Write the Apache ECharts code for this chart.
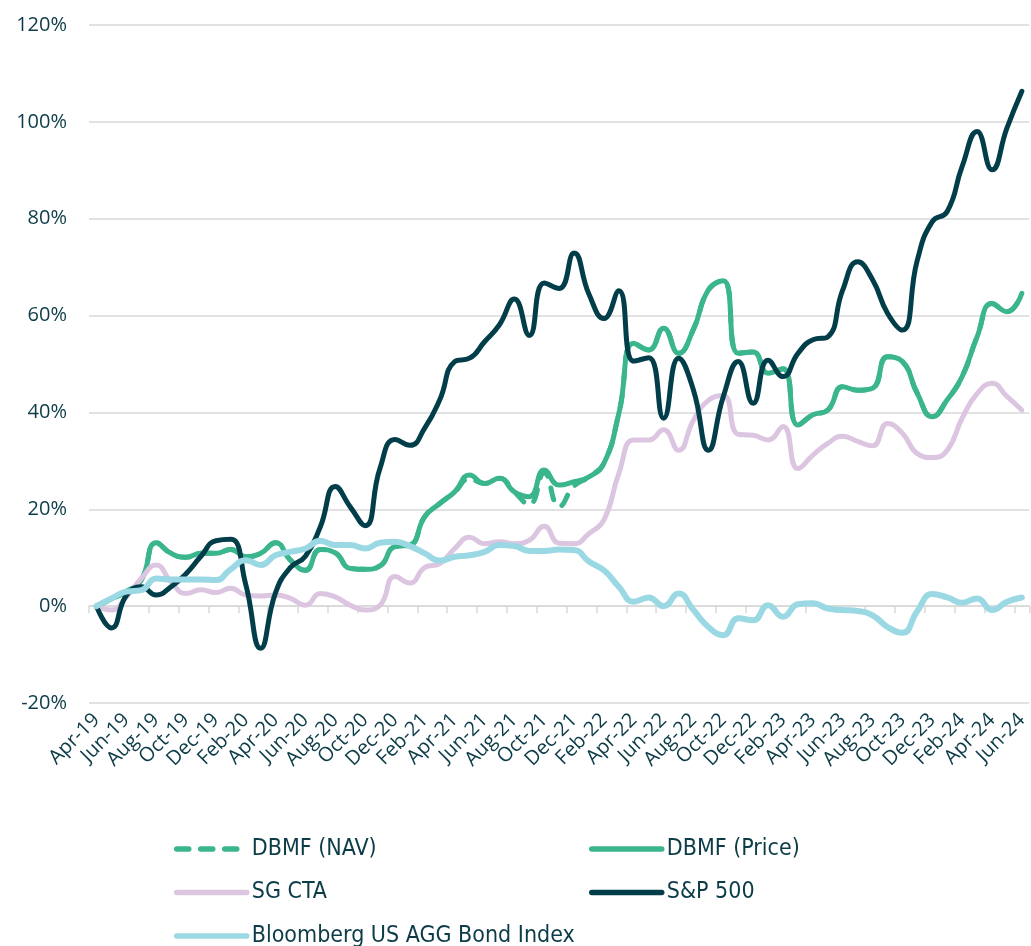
<!DOCTYPE html>
<html><head><meta charset="utf-8">
<script src="https://cdn.jsdelivr.net/npm/echarts@6/dist/echarts.min.js"></script>
<style>html,body{margin:0;padding:0;background:#fff}#c{width:1031px;height:946px}</style>
</head><body><div id="c"></div>
<script>
const months = ['Apr-19','May-19','Jun-19','Jul-19','Aug-19','Sep-19','Oct-19','Nov-19','Dec-19',
'Jan-20','Feb-20','Mar-20','Apr-20','May-20','Jun-20','Jul-20','Aug-20','Sep-20','Oct-20','Nov-20','Dec-20',
'Jan-21','Feb-21','Mar-21','Apr-21','May-21','Jun-21','Jul-21','Aug-21','Sep-21','Oct-21','Nov-21','Dec-21',
'Jan-22','Feb-22','Mar-22','Apr-22','May-22','Jun-22','Jul-22','Aug-22','Sep-22','Oct-22','Nov-22','Dec-22',
'Jan-23','Feb-23','Mar-23','Apr-23','May-23','Jun-23','Jul-23','Aug-23','Sep-23','Oct-23','Nov-23','Dec-23',
'Jan-24','Feb-24','Mar-24','Apr-24','May-24','Jun-24'];

const dbmfNav = [0,1.5,3.0,5.4,13.1,10.9,10.1,10.9,10.9,11.7,10.2,10.9,13.1,9.5,7.4,11.7,11.0,7.8,7.6,8.3,12.3,12.6,18.5,21.2,23.6,26.3,25.3,26.4,23.6,21.0,27.5,20.6,24.8,26.7,29.5,39.8,54.3,52.9,57.4,52.2,57.2,65.3,67.2,52.2,52.5,48.1,49.0,37.4,39.5,40.5,45.3,44.6,45.0,51.5,50.5,43.9,39.1,42.6,47.4,55.6,62.5,60.8,64.6];
const dbmfPrice = [0,1.5,3.0,5.4,13.1,10.9,10.1,10.9,10.9,11.7,10.2,10.9,13.1,9.5,7.4,11.7,11.0,7.8,7.6,8.3,12.3,12.6,18.5,21.2,23.6,27.1,25.3,26.4,23.6,22.6,28.1,25.0,25.7,26.7,29.5,39.8,54.3,52.9,57.4,52.2,57.2,65.3,67.2,52.2,52.5,48.1,49.0,37.4,39.5,40.5,45.3,44.6,45.0,51.5,50.5,43.9,39.1,42.6,47.4,55.6,62.5,60.8,64.6];
const sgCta = [0,-0.8,1.9,5.7,8.5,5.0,2.6,3.4,2.8,3.7,2.3,2.1,2.3,1.6,0.2,2.6,1.9,0.2,-0.8,0.2,6.1,4.8,8.0,8.8,11.9,14.2,12.9,13.3,12.9,13.6,16.5,13.0,12.9,15.0,17.8,27.4,34.3,34.3,36.4,32.2,38.4,42.5,43.5,35.5,35.3,34.3,37.1,28.4,31.2,33.6,35.1,34.0,33.1,37.7,35.7,31.5,30.7,32.2,38.8,43.9,46.0,43.3,40.5];
const sp500 = [0,-4.5,2.2,4.0,2.3,4.0,6.7,10.3,13.5,13.8,4.5,-8.7,2.8,8.0,10.3,16.4,24.7,20.5,16.6,28.5,34.4,33.2,36.8,42.6,50.5,51.2,54.6,58.1,63.4,55.9,66.7,65.6,72.9,64.4,59.4,65.1,50.6,51.3,38.8,51.2,44.6,32.2,43.3,50.5,41.9,50.8,47.4,52.2,55.0,55.6,65.3,71.1,67.4,60.5,57.0,71.5,79.4,81.5,90.8,98.0,90.1,98.7,106.3];
const bondAgg = [0,1.6,3.0,3.3,5.7,5.5,5.5,5.5,5.4,7.6,9.5,8.5,10.5,11.2,11.9,13.5,12.6,12.6,11.9,13.1,13.3,12.4,10.9,9.4,10.2,10.5,11.2,12.6,12.4,11.4,11.4,11.7,11.6,9.2,7.4,4.0,0.9,1.8,0,2.6,-0.8,-4.3,-6.0,-2.5,-2.9,0.2,-2.2,0.4,0.6,-0.5,-0.8,-1.0,-1.9,-4.3,-5.5,-1.0,2.5,1.8,0.7,1.6,-0.8,0.9,1.8];

const TEXT = '#0c3c48';
const GRID = '#d9d9d9';
const C_GREEN = '#3bb58d', C_LAV = '#dcc5e0', C_DARK = '#023e4a', C_BLUE = '#9ad8e3';

function mk(name, data, color, width, type) {
  return { name, type: 'line', data, smooth: 0.5, symbol: 'none',
    lineStyle: { color, width, type, cap: 'round', join: 'round' },
    itemStyle: { color }, emphasis: { disabled: true } };
}

const legendBase = {
  orient: 'vertical', top: 832, height: 160, padding: 5, itemWidth: 70, itemHeight: 24, itemGap: 19.5,
  selectedMode: false,
  textStyle: { fontFamily: 'DejaVu Sans Condensed', fontSize: 23, color: TEXT, lineHeight: 24 },
  lineStyle: { width: 5.5 }, itemStyle: { opacity: 0 }
};

const chart = echarts.init(document.getElementById('c'), null, { renderer: 'canvas' });
chart.setOption({
  animation: false,
  backgroundColor: '#ffffff',
  grid: { left: 89, top: 25, width: 945, height: 678, containLabel: false },
  legend: [
    Object.assign({}, legendBase, { left: 169, data: ['DBMF (NAV)', 'SG CTA', 'Bloomberg US AGG Bond Index'] }),
    Object.assign({}, legendBase, { left: 584, data: ['DBMF (Price)', 'S&P 500'] })
  ],
  xAxis: [
    { type: 'category', data: months, boundaryGap: true, position: 'bottom',
      axisLine: { show: false, onZero: false }, axisTick: { show: false },
      axisLabel: { interval: 1, rotate: 45, margin: 14, fontFamily: 'Open Sans', fontSize: 20, color: TEXT } },
    { type: 'category', data: months, boundaryGap: true, position: 'bottom',
      axisLine: { show: true, onZero: true, lineStyle: { color: GRID, width: 1.5 } },
      axisTick: { show: true, interval: 1, length: 7, lineStyle: { color: GRID, width: 1.5 } },
      axisLabel: { show: false } }
  ],
  yAxis: {
    type: 'value', min: -20, max: 120, interval: 20,
    axisLine: { show: false }, axisTick: { show: false },
    axisLabel: { formatter: '{value}%', margin: 22, fontFamily: 'Open Sans', fontSize: 20, color: TEXT },
    splitLine: { lineStyle: { color: GRID, width: 1.5 } }
  },
  series: [
    mk('DBMF (NAV)', dbmfNav, C_GREEN, 5, [12, 12]),
    mk('DBMF (Price)', dbmfPrice, C_GREEN, 5, 'solid'),
    mk('SG CTA', sgCta, C_LAV, 5, 'solid'),
    mk('S&P 500', sp500, C_DARK, 5, 'solid'),
    mk('Bloomberg US AGG Bond Index', bondAgg, C_BLUE, 6, 'solid')
  ]
});
</script>
</body></html>
